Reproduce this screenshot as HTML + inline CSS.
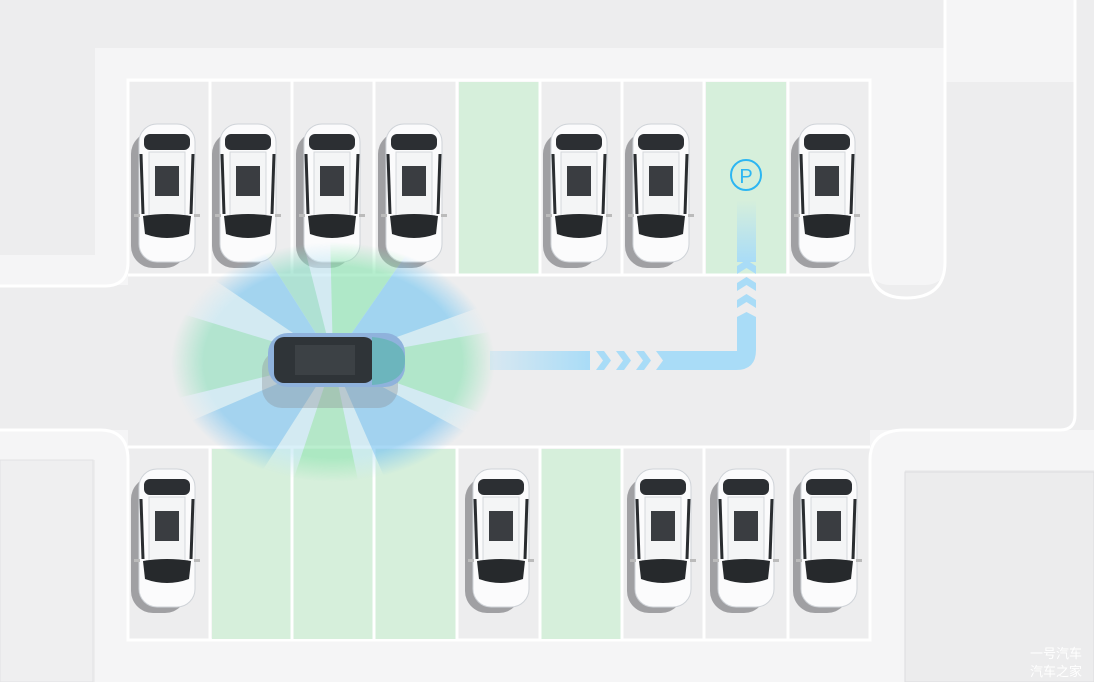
<!DOCTYPE html>
<html><head><meta charset="utf-8"><style>
html,body{margin:0;padding:0;background:#ededee;}
.wm{position:absolute;right:12px;font-family:"Liberation Sans","Noto Sans CJK SC",sans-serif;font-size:13px;color:#fff;}
</style></head><body>
<div style="position:relative;width:1094px;height:682px;overflow:hidden;">
<svg width="1094" height="682" viewBox="0 0 1094 682" xmlns="http://www.w3.org/2000/svg">
<defs>
<g id="car">
 <rect x="-36" y="-62" width="56" height="136" rx="22" fill="#8c8c90" opacity="0.8"/>
 <rect x="-28" y="-70" width="56" height="138" rx="18" fill="#fbfbfc" stroke="#cfd3d8" stroke-width="1"/>
 <rect x="-23" y="-60" width="46" height="16" rx="6" fill="#2c2f33"/>
 <rect x="-18" y="-42" width="36" height="64" fill="#f4f5f6" stroke="#d5d8dc"/>
 <rect x="-12" y="-28" width="24" height="30" fill="#3a3d41"/>
 <path d="M-24 22 Q0 18 24 22 L22 40 Q0 48 -22 40 Z" fill="#26292c"/>
 <path d="M-26 -40 L-24 20" stroke="#2a2d30" stroke-width="3"/>
 <path d="M26 -40 L24 20" stroke="#2a2d30" stroke-width="3"/>
 <rect x="-33" y="20" width="6" height="3" fill="#bbb"/>
 <rect x="27" y="20" width="6" height="3" fill="#bbb"/>
</g>
<radialGradient id="sfade" cx="0.5" cy="0.5" r="0.5">
 <stop offset="0.8" stop-color="#fff" stop-opacity="1"/>
 <stop offset="1" stop-color="#fff" stop-opacity="0"/>
</radialGradient>
<mask id="smask"><ellipse cx="333" cy="362" rx="162" ry="120" fill="url(#sfade)"/></mask>
<linearGradient id="vfade" x1="0" y1="1" x2="0" y2="0">
 <stop offset="0" stop-color="#a9dcf7"/><stop offset="1" stop-color="#a9dcf7" stop-opacity="0"/>
</linearGradient>
<linearGradient id="hfade" x1="0" y1="0" x2="1" y2="0">
 <stop offset="0" stop-color="#a9dcf7" stop-opacity="0.3"/><stop offset="1" stop-color="#a9dcf7"/>
</linearGradient>
</defs>

<rect x="95" y="48" width="980" height="34" fill="#f5f5f6"/>
<rect x="95" y="48" width="33" height="225" fill="#f5f5f6"/>
<rect x="0" y="255" width="128" height="30" fill="#f5f5f6"/>
<rect x="870" y="48" width="75" height="225" fill="#f5f5f6"/>
<rect x="870" y="255" width="75" height="30" rx="20" fill="#f5f5f6"/>
<rect x="945" y="0" width="130" height="82" fill="#f5f5f6"/>
<rect x="0" y="430" width="128" height="30" fill="#f5f5f6"/>
<rect x="95" y="430" width="33" height="252" fill="#f5f5f6"/>
<rect x="95" y="640" width="810" height="42" fill="#f5f5f6"/>
<rect x="870" y="430" width="224" height="40" fill="#f5f5f6"/>
<rect x="870" y="430" width="35" height="252" fill="#f5f5f6"/>
<rect x="905" y="472" width="189" height="210" fill="#ececed" stroke="#dcdcde"/>
<rect x="0" y="460" width="93" height="222" fill="#efeff0" stroke="#e2e2e4"/>
<rect x="0" y="0" width="93" height="255" fill="#ededee"/>
<rect x="0" y="0" width="945" height="46" fill="#ededee"/>
<path d="M0 286 H105 Q128 286 128 262 V80 H870 V262 Q870 298 906 298 Q945 298 945 262 V0" fill="none" stroke="#fff" stroke-width="3"/>
<path d="M1075 0 V415 Q1075 430 1060 430 H905 Q870 430 870 460 V640 H128 V460 Q128 430 100 430 H0" fill="none" stroke="#fff" stroke-width="3"/>
<rect x="459" y="82" width="80" height="192" fill="#d6efdb"/>
<rect x="706" y="82" width="80" height="192" fill="#d6efdb"/>
<rect x="212" y="449" width="244" height="190" fill="#d6efdb"/>
<rect x="541" y="449" width="80" height="190" fill="#d6efdb"/>
<g stroke="#fff" stroke-width="3">
 <line x1="128" y1="275" x2="870" y2="275"/>
 <line x1="128" y1="447" x2="870" y2="447"/>
 <line x1="210" y1="80" x2="210" y2="275"/><line x1="292" y1="80" x2="292" y2="275"/><line x1="374" y1="80" x2="374" y2="275"/><line x1="457" y1="80" x2="457" y2="275"/><line x1="540" y1="80" x2="540" y2="275"/><line x1="622" y1="80" x2="622" y2="275"/><line x1="704" y1="80" x2="704" y2="275"/><line x1="788" y1="80" x2="788" y2="275"/>
 <line x1="210" y1="447" x2="210" y2="640"/><line x1="292" y1="447" x2="292" y2="640"/><line x1="374" y1="447" x2="374" y2="640"/><line x1="457" y1="447" x2="457" y2="640"/><line x1="540" y1="447" x2="540" y2="640"/><line x1="622" y1="447" x2="622" y2="640"/><line x1="704" y1="447" x2="704" y2="640"/><line x1="788" y1="447" x2="788" y2="640"/>
</g>
<use href="#car" transform="translate(167,194)"/>
<use href="#car" transform="translate(248,194)"/>
<use href="#car" transform="translate(332,194)"/>
<use href="#car" transform="translate(414,194)"/>
<use href="#car" transform="translate(579,194)"/>
<use href="#car" transform="translate(661,194)"/>
<use href="#car" transform="translate(827,194)"/>
<use href="#car" transform="translate(167,539)"/>
<use href="#car" transform="translate(501,539)"/>
<use href="#car" transform="translate(663,539)"/>
<use href="#car" transform="translate(746,539)"/>
<use href="#car" transform="translate(829,539)"/>

<g mask="url(#smask)" opacity="0.65">
 <ellipse cx="333" cy="362" rx="162" ry="120" fill="#c6e9f5"/>
 <path d="M333 360 L170 250 L250 230 Z" fill="#7cc7f1"/>
 <path d="M333 360 L250 230 L300 230 Z" fill="#8fdcc6"/>
 <path d="M333 360 L330 230 L420 235 Z" fill="#8fe6b4"/>
 <path d="M333 360 L420 235 L500 300 Z" fill="#79c8f2"/>
 <path d="M333 360 L500 330 L500 420 Z" fill="#92e3b8"/>
 <path d="M333 360 L480 440 L390 490 Z" fill="#7bc4f1"/>
 <path d="M333 360 L360 490 L290 490 Z" fill="#96e5b5"/>
 <path d="M333 360 L250 490 L170 430 Z" fill="#7ec6f0"/>
 <path d="M333 360 L170 400 L170 310 Z" fill="#93e0c0"/>
</g>
<rect x="490" y="351" width="100" height="19" fill="url(#hfade)"/>
<g fill="#a9dcf7">
 <path d="M596 351 h8 l7 9.5 l-7 9.5 h-8 l7 -9.5z"/>
 <path d="M616 351 h8 l7 9.5 l-7 9.5 h-8 l7 -9.5z"/>
 <path d="M636 351 h8 l7 9.5 l-7 9.5 h-8 l7 -9.5z"/>
 <path d="M656 351 H737 V317 l9.5 -5 l9.5 5 V350 Q756 370 736 370 H656 l7 -9.5z"/>
 <path d="M737 300 l9.5 -6 l9.5 6 v8 l-9.5 -6 l-9.5 6z"/>
 <path d="M737 283 l9.5 -6 l9.5 6 v8 l-9.5 -6 l-9.5 6z"/>
 <path d="M737 266 l9.5 -6 l9.5 6 v8 l-9.5 -6 l-9.5 6z"/>
</g>
<rect x="737" y="200" width="19" height="62" fill="url(#vfade)"/>
<circle cx="746" cy="175" r="15" fill="none" stroke="#2cb6f2" stroke-width="2"/>
<text x="746" y="183" text-anchor="middle" font-family="Liberation Sans, sans-serif" font-size="20" fill="#2cb6f2">P</text>

<rect x="262" y="350" width="136" height="58" rx="20" fill="#8a8d92" opacity="0.35"/>
<rect x="268" y="333" width="137" height="54" rx="20" fill="#8fb2dc"/>
<rect x="274" y="337" width="100" height="46" rx="10" fill="#2f3438"/>
<path d="M372 337 Q405 340 405 360 Q405 383 372 385 Z" fill="#6cb5bd"/>
<rect x="295" y="345" width="60" height="30" fill="#3c4145"/>
</svg>
<div class="wm" style="top:643px">一号汽车</div>
<div class="wm" style="top:661px">汽车之家</div>
</div>
</body></html>
